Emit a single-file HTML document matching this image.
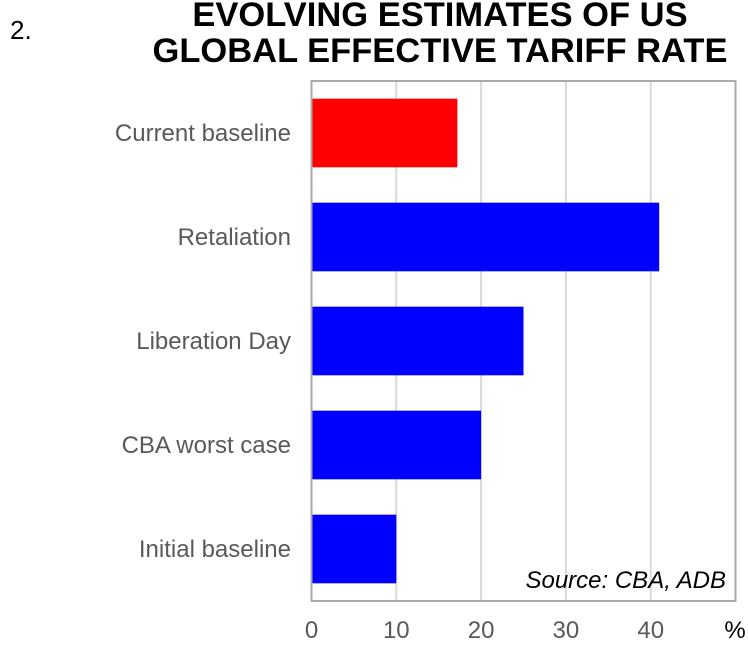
<!DOCTYPE html>
<html><head><meta charset="utf-8"><style>
body{margin:0;width:748px;height:644px;background:#fff;overflow:hidden;font-family:"Liberation Sans",Arial,sans-serif}
</style></head><body>
<svg width="748" height="644" xmlns="http://www.w3.org/2000/svg">
<text x="10" y="39" font-size="26" fill="#000">2.</text>
<text x="440" y="26" font-size="34.5" font-weight="bold" text-anchor="middle" fill="#000">EVOLVING ESTIMATES OF US</text>
<text x="440" y="62" font-size="34.5" font-weight="bold" text-anchor="middle" fill="#000">GLOBAL EFFECTIVE TARIFF RATE</text>
<g id="grid"></g>
<g id="bars"></g>
<g id="labels"></g>
<rect x="311.5" y="81" width="424" height="520" fill="none" stroke="#aaa" stroke-width="2"/>
<text x="726" y="588" font-size="24" font-style="italic" text-anchor="end" fill="#000">Source: CBA, ADB</text>
<text x="735" y="638" font-size="24" text-anchor="middle" fill="#000">%</text>
</svg>
<script>
const categories=["Current baseline","Retaliation","Liberation Day","CBA worst case","Initial baseline"];
const values=[17.2,41,25,20,10];
const barColors=["#ff0000","#0000ff","#0000ff","#0000ff","#0000ff"];
const ticks=[0,10,20,30,40];
const NS="http://www.w3.org/2000/svg";
const plotX0=311.5,xMax=50,plotW=424,plotTop=81,plotH=520;
const xs=v=>plotX0+v/xMax*plotW;
const band=plotH/categories.length;
function mk(t,a,p){const e=document.createElementNS(NS,t);for(const k in a)e.setAttribute(k,a[k]);p.appendChild(e);return e;}
const g=document.getElementById('grid'),b=document.getElementById('bars'),l=document.getElementById('labels');
ticks.forEach(t=>{
 if(t>0){const ln=mk('line',{x1:xs(t),x2:xs(t),y1:plotTop,y2:plotTop+plotH,stroke:'#d9d9d9','stroke-width':2},g);
 
 }
 const tx=mk('text',{x:xs(t),y:638,'font-size':24,'text-anchor':'middle',fill:'#595959'},l);
 tx.textContent=t;
 
 
});
categories.forEach((c,i)=>{
 const y=plotTop+i*band+band*0.17;
 const r=mk('rect',{x:plotX0,y:y,width:xs(values[i])-plotX0,height:band*0.66,fill:barColors[i]},b);
 
 
 const t=mk('text',{x:291,y:plotTop+i*band+band/2+8,'font-size':24,'text-anchor':'end',fill:'#595959'},l);
 t.textContent=c;
 
 
});
</script>
</body></html>
